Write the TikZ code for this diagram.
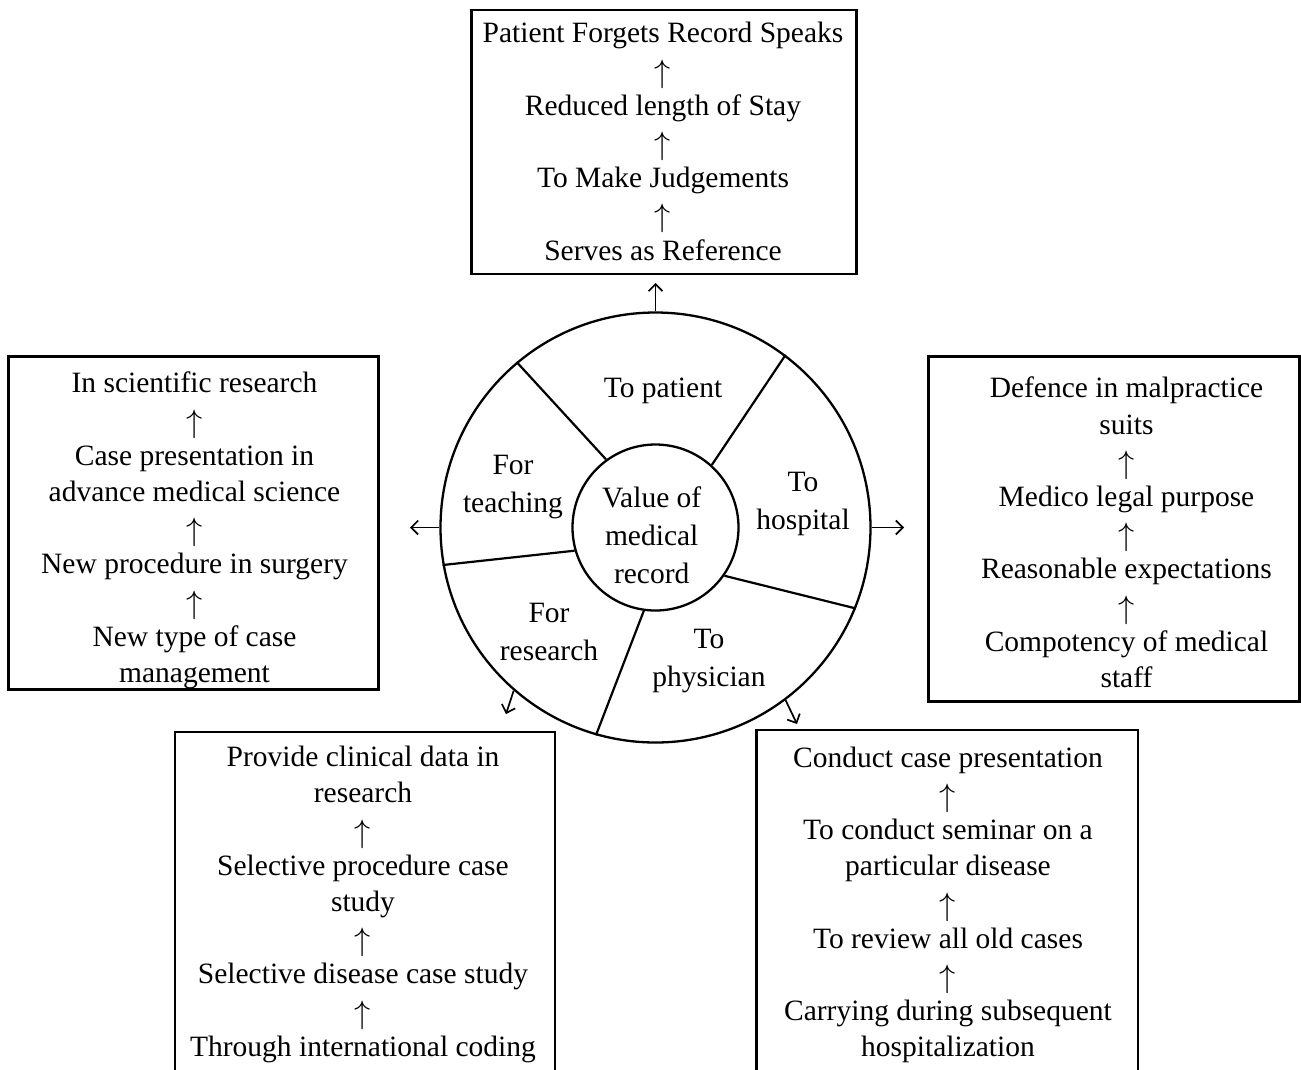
\documentclass[tikz,border=0pt]{standalone}
\usepackage{graphicx}
\usepackage{fontspec}
\setmainfont{Liberation Serif}
\usetikzlibrary{arrows.meta}
\begin{document}
\begin{tikzpicture}[x=1pt,y=-1pt,
  boxline/.style={draw, line width=2.4pt, inner sep=0pt},
  txt/.style={align=center, font=\fontsize{29.5}{36.2}\selectfont, inner sep=0pt},
  ctxt/.style={align=center, font=\fontsize{29.5}{38}\selectfont, inner sep=0pt},
  conn/.style={line width=1.7pt, -{Straight Barb[length=7pt,width=14pt,line width=1.7pt]}},
  divider/.style={line width=2.2pt},
  ring/.style={circle, draw, line width=2.3pt, inner sep=0pt}]
\newcommand{\upa}{\raisebox{-3pt}{\scalebox{1.3}{$\uparrow$}}}
\useasboundingbox (0,0) rectangle (1301,1069);
% circles
\node[ring, minimum size=430pt] (outer) at (655.5,527.5) {};
\node[ring, minimum size=166pt] (inner) at (655.5,527.5) {};
% dividers (inner angle / outer angle)
\foreach \i/\o in {126.3/130.4, 48.6/53, -35.8/-22.8, -98.7/-106.4, 196.7/190.9}
  \draw[divider] (inner.\i) -- (outer.\o);
% circle labels
\node[ctxt] (lpat) at (663,391) {To patient};
\node[ctxt] (lteach) at (513,487) {For\\teaching};
\node[ctxt] (lhosp) at (803,504) {To\\hospital};
\node[ctxt] (lcore) at (651.7,535.5) {Value of\\medical\\record};
\node[ctxt] (lres) at (549,632) {For\\research};
\node[ctxt] (lphys) at (709,661) {To\\physician};
% boxes
\node[boxline, minimum width=385pt, minimum height=264pt] (patbox) at (664,142) {};
\node[boxline, minimum width=370pt, minimum height=333pt] (teachbox) at (193.5,523) {};
\node[boxline, minimum width=371pt, minimum height=345pt] (hospbox) at (1114,529) {};
\node[inner sep=0pt, minimum width=380pt, minimum height=346pt] (resbox) at (365,905) {};
\node[inner sep=0pt, minimum width=381pt, minimum height=348pt] (physbox) at (947,904) {};
\draw[line width=2.4pt] (resbox.south west) -- (resbox.north west) -- (resbox.north east) -- (resbox.south east);
\draw[line width=2.4pt] (physbox.south west) -- (physbox.north west) -- (physbox.north east) -- (physbox.south east);
% box texts
\node[txt] (tpat) at (663,141.5) {Patient Forgets Record Speaks\\\upa\\Reduced length of Stay\\\upa\\To Make Judgements\\\upa\\Serves as Reference};
\node[txt] (tteach) at (194.5,530.5) {In scientific research\\\upa\\Case presentation in\\advance medical science\\\upa\\New procedure in surgery\\\upa\\New type of case\\management};
\node[txt] (thosp) at (1126.5,532.5) {Defence in malpractice\\suits\\\upa\\Medico legal purpose\\\upa\\Reasonable expectations\\\upa\\Compotency of medical\\staff};
\node[txt] (tres) at (363,904.5) {Provide clinical data in\\research\\\upa\\Selective procedure case\\study\\\upa\\Selective disease case study\\\upa\\Through international coding};
\node[txt] (tphys) at (948,905) {Conduct case presentation\\\upa\\To conduct seminar on a\\particular disease\\\upa\\To review all old cases\\\upa\\Carrying during subsequent\\hospitalization};
% connectors
\coordinate (tipT) at (655.5,283);
\coordinate (tipL) at (410,527.5);
\coordinate (tipR) at (904,527.5);
\coordinate (tipBL) at (506,714);
\coordinate (tipBR) at (797,724);
\draw[conn] (outer.north) -- (tipT);
\draw[conn] (outer.west) -- (tipL);
\draw[conn] (outer.east) -- (tipR);
\draw[conn] (outer.-131) -- (tipBL);
\draw[conn] (outer.-53) -- (tipBR);
\end{tikzpicture}
\end{document}
